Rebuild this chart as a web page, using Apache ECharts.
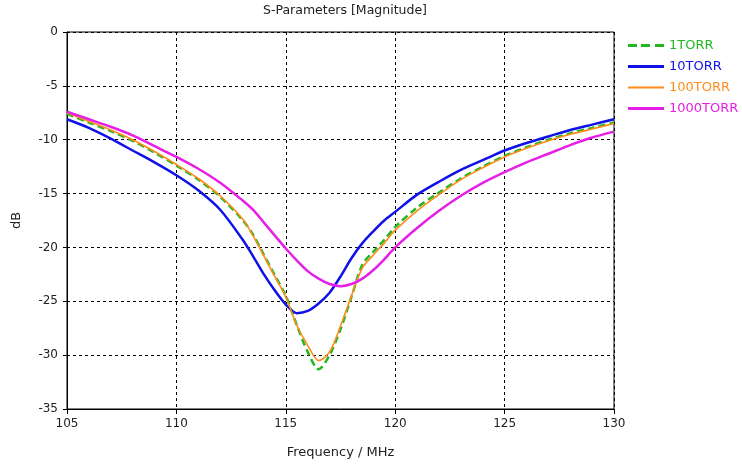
<!DOCTYPE html>
<html>
<head>
<meta charset="utf-8">
<script src="https://cdn.jsdelivr.net/npm/echarts@6/dist/echarts.min.js"></script>
<style>
  html, body { margin: 0; padding: 0; background: #fff; }
  #chart { width: 742px; height: 468px; }
</style>
</head>
<body>
<div id="chart"></div>
<script>
// Frequency sample points (MHz)
const freq = [105, 106, 107, 108, 109, 110, 111, 112, 113, 113.5, 114, 114.5, 115, 115.5, 116, 116.5, 117, 117.5, 118, 118.5, 119, 119.5, 120, 121, 122, 123, 124, 125, 126, 127, 128, 129, 130];

// |S11| in dB for each pressure
const s1Torr    = [-7.6, -8.4, -9.2, -10.1, -11.2, -12.4, -13.7, -15.3, -17.4, -18.8, -20.7, -22.6, -24.5, -27.2, -29.7, -31.3, -30.0, -27.6, -24.6, -21.6, -20.4, -19.3, -18.1, -16.3, -14.9, -13.6, -12.5, -11.5, -10.7, -10.0, -9.4, -8.9, -8.4];
const s10Torr   = [-8.1, -8.9, -9.9, -11.0, -12.1, -13.3, -14.7, -16.5, -19.2, -20.8, -22.5, -24.0, -25.3, -26.1, -25.9, -25.2, -24.2, -22.7, -21.0, -19.6, -18.5, -17.5, -16.7, -15.1, -13.9, -12.8, -11.9, -11.0, -10.3, -9.7, -9.1, -8.6, -8.1];
const s100Torr  = [-7.5, -8.3, -9.1, -10.0, -11.1, -12.3, -13.6, -15.2, -17.3, -18.9, -20.8, -22.7, -24.6, -27.2, -29.1, -30.5, -29.7, -27.3, -24.5, -21.9, -20.7, -19.6, -18.4, -16.6, -15.1, -13.7, -12.6, -11.6, -10.8, -10.1, -9.5, -9.0, -8.5];
const s1000Torr = [-7.4, -8.1, -8.8, -9.6, -10.6, -11.6, -12.7, -14.0, -15.6, -16.5, -17.7, -18.9, -20.1, -21.2, -22.2, -22.9, -23.4, -23.6, -23.4, -22.9, -22.1, -21.1, -20.0, -18.2, -16.6, -15.2, -14.0, -13.0, -12.1, -11.3, -10.5, -9.8, -9.25];

const seriesNames = ['1TORR', '10TORR', '100TORR', '1000TORR'];
const seriesColors = ['#22b822', '#1010e8', '#ff8c1a', '#e61ee6'];

// Legend glyphs: short dashes for the dashed trace, bars of trace thickness otherwise
const legendIcons = [
  'path://M0,0h9v3h-9zM13,0h9v3h-9zM27,0h9v3h-9z',
  'path://M0,0h36v3h-36z',
  'path://M0,0h36v2h-36z',
  'path://M0,0h36v3h-36z'
];

const FONT = 'DejaVu Sans';

function pairs(values) {
  return freq.map((f, i) => [f, values[i]]);
}

function makeSeries(name, values, color, width, type) {
  return {
    name: name,
    type: 'line',
    data: pairs(values),
    smooth: 0.3,
    symbol: 'none',
    color: color,
    lineStyle: { color: color, width: width, type: type },
    emphasis: { disabled: true },
    z: 3
  };
}

const chart = echarts.init(document.getElementById('chart'), null, { renderer: 'canvas' });

chart.setOption({
  animation: false,
  backgroundColor: '#ffffff',
  title: {
    text: 'S-Parameters [Magnitude]',
    left: 340,
    top: -1,
    textAlign: 'center',
    textStyle: { fontFamily: FONT, fontSize: 12.5, fontWeight: 'normal', color: '#222' }
  },
  legend: {
    orient: 'vertical',
    left: 628,
    top: 39,
    itemWidth: 36,
    itemHeight: 14,
    itemGap: 8,
    padding: 0,
    data: seriesNames.map((n, i) => ({
      name: n,
      icon: legendIcons[i],
      textStyle: { color: seriesColors[i] }
    })),
    textStyle: { fontFamily: FONT, fontSize: 13 }
  },
  grid: {
    left: 67, right: 128, top: 32, bottom: 59,
    show: true, borderColor: '#000', borderWidth: 1, backgroundColor: 'transparent'
  },
  xAxis: {
    type: 'value',
    min: 105, max: 130, interval: 5,
    name: 'Frequency / MHz',
    nameLocation: 'middle',
    nameGap: 37,
    nameTextStyle: { fontFamily: FONT, fontSize: 13, color: '#222' },
    axisLine: { show: true, onZero: false, lineStyle: { color: '#000', width: 1 } },
    axisTick: { show: true, length: 5, lineStyle: { color: '#000' } },
    axisLabel: { fontFamily: FONT, fontSize: 12, color: '#222', margin: 9 },
    splitLine: { show: true, lineStyle: { color: '#000', type: [3, 3], width: 1 } }
  },
  yAxis: {
    type: 'value',
    min: -35, max: 0, interval: 5,
    name: 'dB',
    nameLocation: 'middle',
    nameGap: 44,
    nameTextStyle: { fontFamily: FONT, fontSize: 13, color: '#222' },
    axisLine: { show: true, onZero: false, lineStyle: { color: '#000', width: 1 } },
    axisTick: { show: true, length: 4, lineStyle: { color: '#000' } },
    axisLabel: { fontFamily: FONT, fontSize: 12, color: '#222', margin: 9 },
    splitLine: { show: true, lineStyle: { color: '#000', type: [3, 3], width: 1 } }
  },
  series: [
    makeSeries(seriesNames[0], s1Torr, seriesColors[0], 2.5, [7, 4]),
    makeSeries(seriesNames[1], s10Torr, seriesColors[1], 2.5, 'solid'),
    makeSeries(seriesNames[2], s100Torr, seriesColors[2], 1.6, 'solid'),
    makeSeries(seriesNames[3], s1000Torr, seriesColors[3], 2.5, 'solid')
  ]
});
</script>
</body>
</html>
